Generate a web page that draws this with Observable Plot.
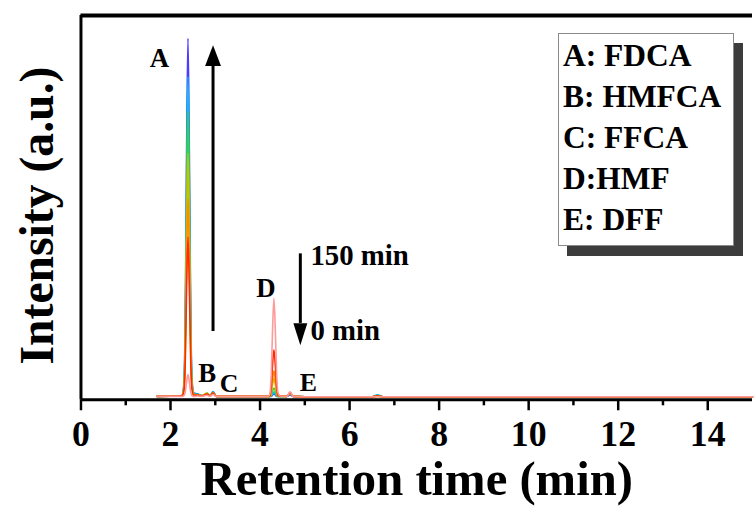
<!DOCTYPE html>
<html>
<head>
<meta charset="utf-8">
<script src="https://cdn.jsdelivr.net/npm/d3@7"></script>
<script src="https://cdn.jsdelivr.net/npm/@observablehq/plot@0.6"></script>
<style>
  html, body { margin: 0; padding: 0; background: #fff; overflow: hidden; }
  #wrap { position: relative; width: 755px; height: 511px; overflow: hidden; }
  #chart { position: absolute; left: 0; top: 0; }
  #legend {
    position: absolute; left: 558px; top: 33px; width: 176px; height: 213px;
    box-sizing: border-box; border: 1px solid #8a8a8a; background: #fff;
    box-shadow: 9px 10px 0 #3c3c3c;
    font-family: "Liberation Serif", "Times New Roman", serif; font-weight: bold;
    font-size: 31.5px; line-height: 41px; padding: 1px 0 0 4px; color: #000;
    white-space: nowrap;
  }
</style>
</head>
<body>
<div id="wrap"><div id="chart"></div><div id="legend"></div></div>
<script>
// ---- data ----
const retentionTime = [1.7, 2.2, 2.26, 2.30, 2.33, 2.36, 2.39, 2.42, 2.45, 2.48, 2.52, 2.6, 2.7, 2.82, 2.88, 2.95, 3.02, 3.2, 4.1, 4.19, 4.22, 4.25, 4.28, 4.31, 4.34, 4.37, 4.40, 4.45, 4.6, 4.67, 4.74, 5.0, 6.5, 6.62, 6.75, 15];

const run150 = [0.3,0.4,0.5,3.8,22,65,94,65,24,4.7, 1.2,1.0,0.5,0.8,0.4,1.6,0.3,0.3,0.3,0.3, 0.3,0.3,0.7,1.0,0.7,0.3,0.3,0.3,0.3,0.7, 0.3,0.2,0.2,0.5,0.2,0.2];
const run120 = [0.3,0.4,0.5,3.4,19,58,84,58,21,4.2, 1.0,0.9,0.5,1.0,0.4,1.5,0.3,0.3,0.3,0.3, 0.3,0.4,1.0,1.5,1.0,0.4,0.3,0.3,0.3,0.9, 0.3,0.2,0.2,0.7,0.2,0.2];
const run90  = [0.3,0.4,0.5,3.0,17,52,75,52,19,3.8, 0.9,0.8,0.5,1.2,0.4,1.4,0.3,0.3,0.3,0.3, 0.3,0.6,1.7,2.5,1.7,0.6,0.3,0.3,0.3,1.2, 0.3,0.2,0.2,0.4,0.2,0.2];
const run60  = [0.3,0.4,0.5,2.6,15,44,64,44,16,3.2, 0.8,0.7,0.5,1.1,0.4,1.3,0.3,0.3,0.3,0.3, 0.3,1.2,3.5,5.0,3.5,1.3,0.4,0.3,0.3,1.1, 0.3,0.2,0.2,0.3,0.2,0.2];
const run30  = [0.3,0.4,0.5,2.1,12,36,52,36,13,2.6, 0.7,0.7,0.4,1.0,0.4,1.2,0.3,0.3,0.3,0.3, 0.3,1.6,4.8,7.0,4.8,1.8,0.4,0.3,0.3,1.2, 0.3,0.2,0.2,0.3,0.2,0.2];
const run15  = [0.3,0.4,0.5,1.7,9.7,29,42,29,10.5,2.1, 0.6,0.6,0.4,0.9,0.4,1.2,0.3,0.3,0.3,0.3, 0.5,2.9,8.6,12.5,8.6,3.1,0.6,0.4,0.3,1.4, 0.3,0.2,0.2,0.4,0.2,0.2];
const run0   = [0.3,0.3,0.3,0.5,1.4,4.1,6,4.1,1.5,0.5, 0.3,0.4,0.3,0.6,0.3,0.8,0.3,0.3,0.3,0.3, 1.0,6.0,18,26,18,6.5,1.3,0.4,0.3,1.5, 0.3,0.2,0.2,0.2,0.2,0.2];

const runNames = ["150 min", "120 min", "90 min", "60 min", "30 min", "15 min", "0 min"];
const runValues = [run150, run120, run90, run60, run30, run15, run0];

const peakLabels = ["A", "B", "C", "D", "E"];
const legendItems = ["A: FDCA", "B: HMFCA", "C: FFCA", "D:HMF", "E: DFF"];
const xTicks = [0, 2, 4, 6, 8, 10, 12, 14];
const xMinorTicks = [1, 3, 5, 7, 9, 11, 13];
const xLabel = "Retention time (min)";
const yLabel = "Intensity (a.u.)";
const timeLabels = ["150 min", "0 min"];

// ---- styles / layout ----
const runColors = ["#4b3cff", "#00c4f0", "#3fcf3f", "#cdbf00", "#ff8c00", "#ff2a00", "#ff9a9a"];
const xDomain = [0, 15];
const yDomain = [-0.6, 100];
const serif = '"Liberation Serif", "Times New Roman", serif';

// annotation placement (data coordinates)
const peakLabelPos = [[1.75, 88.8], [2.82, 6.2], [3.31, 3.6], [4.13, 28.5], [5.08, 3.8]];
const peakLabelSize = [27, 27, 26, 27, 26];
const timeLabelPos = [[5.125, 37], [5.125, 17.6]];
const upArrow = {x: 2.95, y1: 17.3, y2: 87.5, tip: 92.2};
const downArrow = {x: 4.90, y1: 37.6, y2: 19.4, tip: 13.7};

const rows = [];
runNames.forEach((name, i) => {
  retentionTime.forEach((t, j) => rows.push({run: name, time: t, intensity: runValues[i][j]}));
});

const upHead = {draw(ctx) { ctx.moveTo(0, 0); ctx.lineTo(-8, 21); ctx.lineTo(8, 21); ctx.closePath(); }};
const downHead = {draw(ctx) { ctx.moveTo(0, 0); ctx.lineTo(-7, -22); ctx.lineTo(7, -22); ctx.closePath(); }};

const chart = Plot.plot({
  width: 760,
  height: 511,
  marginLeft: 81,
  marginRight: 3,
  marginTop: 15,
  marginBottom: 109,
  style: {fontFamily: serif, fontWeight: "bold", background: "transparent", overflow: "visible"},
  x: {domain: xDomain, axis: null},
  y: {domain: yDomain, axis: null},
  color: {type: "ordinal", domain: runNames, range: runColors},
  marks: [
    Plot.line(rows, {x: "time", y: "intensity", z: "run", stroke: "run", strokeWidth: 1.6, curve: "monotone-x"}),
    Plot.ruleX([xDomain[0]], {strokeWidth: 3, stroke: "#000"}),
    Plot.ruleY([yDomain[0]], {strokeWidth: 3, stroke: "#000"}),
    Plot.ruleY([yDomain[1]], {strokeWidth: 4, stroke: "#000"}),
    Plot.axisX({ticks: xTicks, tickSize: 11, tickPadding: 10, fontSize: 36, strokeWidth: 2.5, tickFormat: d => String(d)}),
    Plot.axisX({ticks: xMinorTicks, tickSize: 6, strokeWidth: 2.5, text: null}),
    Plot.text([xLabel], {frameAnchor: "bottom", dy: 96, fontSize: 49, fill: "#000"}),
    Plot.text([yLabel], {frameAnchor: "left", textAnchor: "middle", dx: -44, dy: 8, rotate: -90, fontSize: 48, fill: "#000"}),
    Plot.text(peakLabels, {x: (d, i) => peakLabelPos[i][0], y: (d, i) => peakLabelPos[i][1], text: d => d, fontSize: (d, i) => peakLabelSize[i], fill: "#000"}),
    Plot.text(timeLabels, {x: (d, i) => timeLabelPos[i][0], y: (d, i) => timeLabelPos[i][1], text: d => d, fontSize: 29, textAnchor: "start", fill: "#000"}),
    Plot.ruleX([upArrow], {x: "x", y1: "y1", y2: "y2", strokeWidth: 3, stroke: "#000"}),
    Plot.dot([upArrow], {x: "x", y: "tip", symbol: upHead, fill: "#000", stroke: null}),
    Plot.ruleX([downArrow], {x: "x", y1: "y1", y2: "y2", strokeWidth: 3, stroke: "#000"}),
    Plot.dot([downArrow], {x: "x", y: "tip", symbol: downHead, fill: "#000", stroke: null})
  ]
});
document.getElementById("chart").appendChild(chart);

const legend = document.getElementById("legend");
legendItems.forEach(t => { const d = document.createElement("div"); d.textContent = t; legend.appendChild(d); });
</script>
</body>
</html>
